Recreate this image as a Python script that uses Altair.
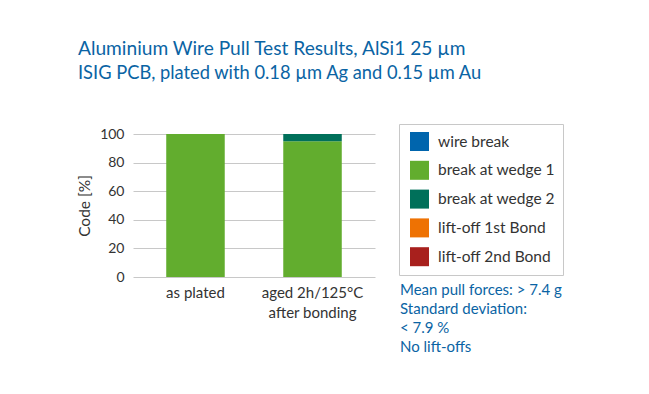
import altair as alt
import pandas as pd

categories = ["as plated", "aged 2h/125°C|after bonding"]
modes = ["wire break", "break at wedge 1", "break at wedge 2", "lift-off 1st Bond", "lift-off 2nd Bond"]
colors = ["#0065ad", "#62ad2e", "#00705a", "#ee7203", "#a8201d"]
values_as_plated = [0, 100, 0, 0, 0]
values_aged = [0, 95, 5, 0, 0]
notes = ["Mean pull forces: > 7.4 g", "Standard deviation:", "< 7.9 %", "No lift-offs"]

rows = []
for cat, vals in zip(categories, [values_as_plated, values_aged]):
    for i, (m, v) in enumerate(zip(modes, vals)):
        rows.append({"cat": cat, "mode": m, "order": i, "value": v})
df = pd.DataFrame(rows)

FONT = "Lato"
BLUE = "#0a64a4"

bars = alt.Chart(df).mark_bar().encode(
    x=alt.X("cat:N", sort=categories, title=None,
            scale=alt.Scale(paddingInner=0.5, paddingOuter=0.284),
            axis=alt.Axis(labelExpr="split(datum.label, '|')", labelAngle=0,
                          labelFontSize=15, labelColor="#333333", labelFont=FONT,
                          labelPadding=8, ticks=False, domain=False, labelLineHeight=20)),
    y=alt.Y("value:Q", stack="zero", title="Code [%]",
            scale=alt.Scale(domain=[0, 100], nice=False),
            axis=alt.Axis(values=[0, 20, 40, 60, 80, 100], ticks=False, domain=False,
                          labelFontSize=14, labelColor="#333333", labelFont=FONT,
                          labelPadding=9, gridColor="#c8c8c8",
                          titleFontSize=15.5, titleFont=FONT, titleColor="#333333",
                          titleFontWeight="normal", titlePadding=7)),
    color=alt.Color("mode:N", scale=alt.Scale(domain=modes, range=colors),
                    legend=alt.Legend(orient="none", legendX=266, legendY=-10,
                                      title=None, symbolType="square", symbolSize=361,
                                      symbolStrokeWidth=0, labelFontSize=15.5,
                                      labelFont=FONT, labelColor="#333333",
                                      labelExpr="datum.label + '\u00a0\u00a0\u00a0'",
                                      rowPadding=9.8, labelOffset=9, padding=8,
                                      symbolOffset=3,
                                      strokeColor="#c8c8c8", fillColor="white",
                                      labelLimit=220)),
    order=alt.Order("order:Q"),
)

notes_df = pd.DataFrame({"t": [notes]})
notes_layer = alt.Chart(notes_df).mark_text(
    align="left", baseline="alphabetic", fontSize=15, font=FONT, color=BLUE,
    lineHeight=19
).encode(text="t", x=alt.value(267), y=alt.value(161))

chart = alt.layer(bars, notes_layer).properties(
    width=242, height=143,
    padding={"left": 125, "top": 126, "right": 266, "bottom": 109},
    autosize=alt.AutoSizeParams(type="none"),
    title=alt.TitleParams(
        text="Aluminium Wire Pull Test Results, AlSi1 25 µm",
        subtitle="ISIG PCB, plated with 0.18 µm Ag and 0.15 µm Au",
        anchor="start", frame="group", dx=-55, offset=41,
        font=FONT, fontSize=19.15, fontWeight="normal", color=BLUE,
        subtitleFont=FONT, subtitleFontSize=18.3, subtitleColor=BLUE, subtitlePadding=6,
    ),
).configure(background="white").configure_view(stroke=None)

chart.save("out.html", embed_options={"renderer": "svg", "actions": False})
